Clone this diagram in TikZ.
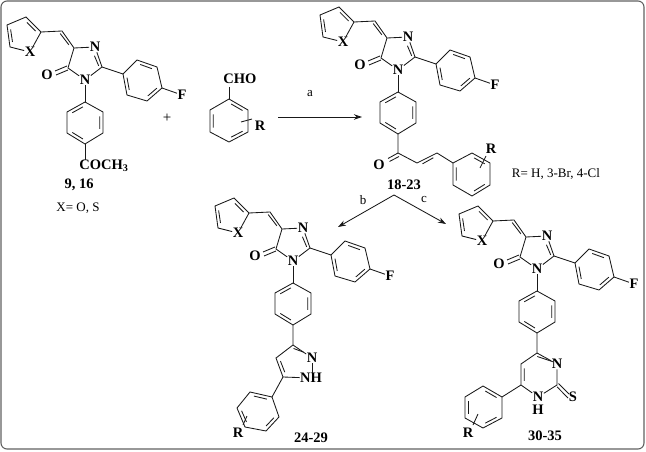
\documentclass[tikz,border=0pt]{standalone}
\usepackage{fontspec}
\setmainfont{Liberation Serif}
\usetikzlibrary{calc,arrows.meta}
\tikzset{
  atom/.style={font=\fontsize{14.5}{15}\selectfont\bfseries,inner sep=0.4pt},
  cmpd/.style={font=\fontsize{14.5}{15}\selectfont\bfseries,inner sep=0pt},
  plain/.style={font=\fontsize{13}{14}\selectfont,inner sep=0pt},
  bond/.style={line width=0.85pt,draw=black!90},
  react/.style={line width=0.85pt,draw=black!90,-{Stealth[length=8pt,width=5.5pt]}}
}
% inner line of a double bond, towards point #3
\newcommand{\dblb}[3]{\draw[bond] ($($(#1)!.14!(#2)$)!3.5pt!(#3)$) -- ($($(#2)!.14!(#1)$)!3.5pt!(#3)$);}
% six-membered aromatic ring with three inner lines
\newcommand{\hexa}[6]{%
  \coordinate (hc) at ($(#1)!.5!(#4)$);
  \draw[bond] (#1)--(#2)--(#3)--(#4)--(#5)--(#6)--cycle;
  \dblb{#1}{#2}{hc}\dblb{#3}{#4}{hc}\dblb{#5}{#6}{hc}}
% the common scaffold; origin at the ring N bearing the phenyl
\newcommand{\corex}[3]{%
\begin{scope}[shift={(#2,#3)}]
  \node[atom] (#1X) at (-55,-28) {X};
  \node[atom] (#1N3) at (10,-33) {N};
  \node[atom] (#1N1) at (0,0) {N};
  \node[atom] (#1O) at (-38,-5) {O};
  \node[atom] (#1F) at (97,15) {F};
  \coordinate (#1f1) at (-59,-63);
  \coordinate (#1f2) at (-78,-55);
  \coordinate (#1f3) at (-75,-33);
  \coordinate (#1f5) at (-44,-48);
  \coordinate (#1fc) at (-62,-45);
  \coordinate (#1v) at (-23,-49);
  \coordinate (#1c4) at (-11,-32);
  \coordinate (#1c2) at (17,-13);
  \coordinate (#1c5) at (-17,-12);
  \coordinate (#1ic) at (0,-19);
  \coordinate (#1o1) at (-30,-9);
  \coordinate (#1o2) at (-29,-5);
  \coordinate (#1o3) at (-18,-14);
  \coordinate (#1o4) at (-17,-10);
  \coordinate (#1p1) at (38,-6);
  \coordinate (#1p2) at (52,-20);
  \coordinate (#1p3) at (72,-13);
  \coordinate (#1p4) at (77,8);
  \coordinate (#1p5) at (62,21);
  \coordinate (#1p6) at (42,15);
  \coordinate (#1q1) at (0,22);
  \coordinate (#1q2) at (18,32);
  \coordinate (#1q3) at (18,53);
  \coordinate (#1q4) at (0,64);
  \coordinate (#1q5) at (-18,53);
  \coordinate (#1q6) at (-18,32);
  \draw[bond] (#1f5)--(#1f1)--(#1f2)--(#1f3)--(#1X);
  \draw[bond] (#1X)--(#1f5);
  \dblb{#1f1}{#1f5}{#1fc}\dblb{#1f2}{#1f3}{#1fc}
  \draw[bond] (#1f5)--(#1v)--(#1c4)--(#1N3);
  \draw[bond] (#1N3)--(#1c2);
  \draw[bond] (#1c2)--(#1N1);
  \draw[bond] (#1N1)--(#1c5)--(#1c4);
  \dblb{#1v}{#1c4}{#1fc}
  \draw[bond] ($(#1c2)!3.5pt!(#1ic)$) -- ($($(#1N3)!.35!(#1c2)$)!3.5pt!(#1ic)$);
  \draw[bond] (#1o1)--(#1o3) (#1o2)--(#1o4);
  \draw[bond] (#1c2)--(#1p1);
  \hexa{#1p2}{#1p3}{#1p4}{#1p5}{#1p6}{#1p1}
  \draw[bond] (#1p4)--(#1F);
  \draw[bond] (#1N1)--(#1q1);
  \hexa{#1q1}{#1q6}{#1q5}{#1q4}{#1q3}{#1q2}
\end{scope}}
\begin{document}
\begin{tikzpicture}[x=1pt,y=-1pt]
\useasboundingbox (0,0) rectangle (646,452);
\draw[line width=1.1pt,draw=black!62,rounded corners=6pt] (1,1) rectangle (644,449);

% ---- 9, 16
\corex{a}{85}{80}
\node[atom,anchor=north] (acoch) at (104,159) {COCH\textsubscript{3}};
\draw[bond] (aq4) -- (85,160);
\node[cmpd] (alabel) at (79,185) {9, 16};
\node[plain] (xdef) at (78,208) {X= O, S};
\node[font=\fontsize{15}{16}\selectfont,inner sep=0pt] (plus) at (167,118) {+};

% ---- aldehyde
\node[atom] (cho) at (240,79) {CHO};
\coordinate (b1) at (229,99);
\coordinate (b2) at (248,110);
\coordinate (b3) at (248,132);
\coordinate (b4) at (229,142);
\coordinate (b5) at (210,132);
\coordinate (b6) at (210,110);
\draw[bond] (229,87) -- (b1);
\hexa{b1}{b2}{b3}{b4}{b5}{b6}
\node[atom] (br) at (260,126) {R};
\coordinate (bs1) at (241,122);
\coordinate (bs2) at (252,119);
\draw[bond] (bs1) -- (bs2);

% ---- arrow a
\coordinate (aS) at (278,117);
\coordinate (aE) at (362,117);
\draw[react] (aS) -- (aE);
\node[plain] (la) at (310,94) {a};

% ---- 18-23
\corex{c}{398}{70}
\node[atom] (co) at (379,165) {O};
\coordinate (c1) at (398,153);
\coordinate (c2) at (417,163);
\coordinate (c3) at (437,153);
\coordinate (c4) at (453,163);
\coordinate (c5) at (472,153);
\coordinate (c6) at (490,163);
\coordinate (c7) at (490,185);
\coordinate (c8) at (472,196);
\coordinate (c9) at (453,185);
\coordinate (cu) at (430,170);
\draw[bond] (cq4) -- (c1) -- (c2) -- (c3) -- (c4);
\dblb{c2}{c3}{cu}
\draw[bond] (c1) -- (388,158.5) (399,156.5) -- (389.5,161.5);
\hexa{c5}{c6}{c7}{c8}{c9}{c4}
\node[atom] (cr) at (491,149) {R};
\coordinate (cs1) at (480,168);
\coordinate (cs2) at (486,156);
\draw[bond] (cs1) -- (cs2);
\node[plain] (rdef) at (556,174) {R= H, 3-Br, 4-Cl};
\node[cmpd] (clabel) at (404,185) {18-23};

% ---- branching arrows
\coordinate (fork) at (394,195);
\coordinate (bE) at (338,227);
\coordinate (cE) at (446,224);
\draw[react] (fork) -- (bE);
\draw[react] (fork) -- (cE);
\node[plain] (lb) at (363,200) {b};
\node[plain] (lc) at (424,200) {c};

% ---- 24-29
\corex{d}{293}{261}
\node[atom] (dn) at (312,358) {N};
\node[atom] (dnh) at (311,378) {NH};
\coordinate (d1) at (293,345);
\coordinate (d2) at (276,358);
\coordinate (d3) at (283,377);
\coordinate (dc) at (296,363);
\draw[bond] (dq4) -- (d1) -- (d2) -- (d3) -- (dnh);
\draw[bond] (d1) -- (dn);
\draw[bond] (dn) -- (dnh.north -| dn);
\dblb{d2}{d3}{dc}
\draw[bond] ($(d1)!3.5pt!(dc)$) -- ($(dn)!.45!(d1)$);
\coordinate (d4) at (272,397);
\coordinate (d5) at (279,417);
\coordinate (d6) at (266,431);
\coordinate (d7) at (245,427);
\coordinate (d8) at (237,408);
\coordinate (d9) at (250,392);
\draw[bond] (d3) -- (d4);
\hexa{d9}{d4}{d5}{d6}{d7}{d8}
\node[atom] (dr) at (238,433) {R};
\coordinate (ds1) at (247,416);
\coordinate (ds2) at (243,425);
\draw[bond] (ds1) -- (ds2);
\node[cmpd] (dlabel) at (311,438) {24-29};

% ---- 30-35
\corex{e}{537}{269}
\node[atom] (en3) at (557,364) {N};
\node[atom] (en1) at (538,397) {N};
\node[atom] (eh) at (538,410) {H};
\node[atom] (es) at (573,397) {S};
\coordinate (e1) at (537,353);
\coordinate (e2) at (557,385);
\coordinate (e3) at (521,385);
\coordinate (e4) at (521,364);
\coordinate (ec) at (539,375);
\draw[bond] (eq4) -- (e1) -- (e4) -- (e3) -- (en1);
\draw[bond] (en1) -- (e2) -- (en3);
\draw[bond] (en3) -- (e1);
\dblb{e4}{e3}{ec}
\draw[bond] ($(e1)!3.5pt!(ec)$) -- ($(en3)!.2!(e1)$);
\draw[bond] ($(e2)+(0,1.8)$) -- ($(es)+(-5,1)$);
\draw[bond] ($(e2)+(1.5,-1.5)$) -- ($(es)+(-4,-3)$);
\coordinate (e5) at (502,397);
\coordinate (e6) at (483,386);
\coordinate (e7) at (465,397);
\coordinate (e8) at (465,418);
\coordinate (e9) at (483,428);
\coordinate (e10) at (502,418);
\draw[bond] (e3) -- (e5);
\hexa{e5}{e6}{e7}{e8}{e9}{e10}
\node[atom] (er) at (468,433) {R};
\coordinate (es1) at (478,414);
\coordinate (es2) at (473,425);
\draw[bond] (es1) -- (es2);
\node[cmpd] (elabel) at (545,436) {30-35};
\end{tikzpicture}
\end{document}
